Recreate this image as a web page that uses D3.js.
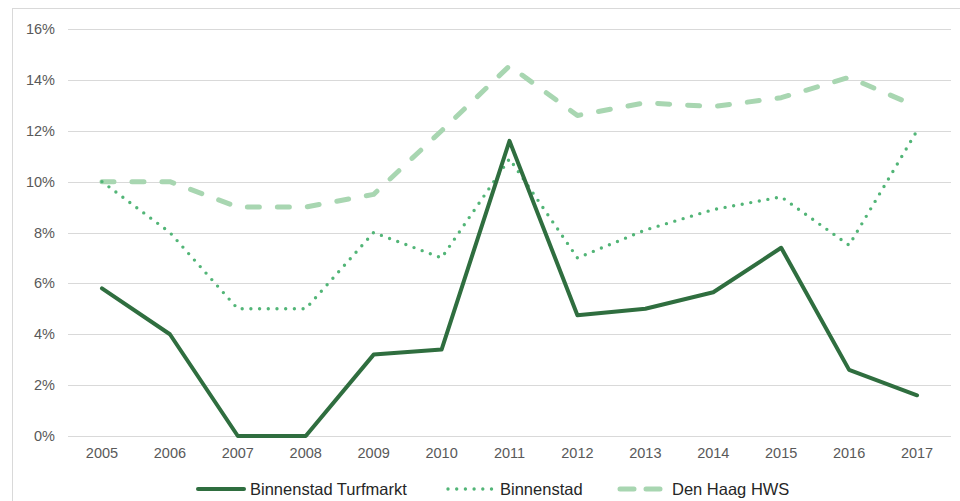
<!DOCTYPE html>
<html>
<head>
<meta charset="utf-8">
<script src="https://cdn.jsdelivr.net/npm/d3@7"></script>
<style>
  body { margin: 0; background: #fff; }
  svg { display: block; font-family: "Liberation Sans", Arial, sans-serif; }
</style>
</head>
<body>
<svg id="chart"></svg>
<script>
// years on the x axis
var years = ["2005", "2006", "2007", "2008", "2009", "2010", "2011", "2012", "2013", "2014", "2015", "2016", "2017"]

// percentages
var turfmarkt = [5.8, 4.0, 0, 0, 3.2, 3.4, 11.6, 4.75, 5.0, 5.65, 7.4, 2.6, 1.6]
var binnenstad = [10, 8, 5, 5, 8, 7, 10.9, 7, 8.1, 8.9, 9.4, 7.5, 12]
var denHaag = [10, 10, 9, 9, 9.5, 12, 14.55, 12.6, 13.1, 12.95, 13.3, 14.1, 12.95]

var yTicks = [0, 2, 4, 6, 8, 10, 12, 14, 16]

var series = [
    {name: "Binnenstad Turfmarkt", values: turfmarkt, color: "#2f6e3f", width: 4, dash: null, legendDash: null},
    {name: "Binnenstad", values: binnenstad, color: "#52b577", width: 3.4, dash: "0 8.7", legendDash: "0 8.7"},
    {name: "Den Haag HWS", values: denHaag, color: "#a8d6b1", width: 5, dash: "12 18", legendDash: "14 12"}
]

var W = 960, H = 501
var svg = d3.select("#chart").attr("width", W).attr("height", H)

// outer chart border
svg.append("rect")
    .attr("x", 12.5).attr("y", 8.5)
    .attr("width", W + 10).attr("height", H + 10)
    .attr("fill", "none")
    .attr("stroke", "#d9d9d9")

var x = d3.scalePoint()
    .domain(years)
    .range([68, 951])
    .padding(0.5)

var y = d3.scaleLinear()
    .domain([0, 16])
    .range([436, 29])

// gridlines
svg.append("g")
    .selectAll("line")
    .data(yTicks)
    .join("line")
        .attr("x1", 68).attr("x2", 951)
        .attr("y1", d => Math.round(y(d)) + 0.5)
        .attr("y2", d => Math.round(y(d)) + 0.5)
        .attr("stroke", "#d9d9d9")

// y labels
svg.append("g")
    .selectAll("text")
    .data(yTicks)
    .join("text")
        .attr("x", 55)
        .attr("y", d => y(d))
        .attr("dy", "0.35em")
        .attr("text-anchor", "end")
        .attr("fill", "#595959")
        .style("font-size", "14.5px")
        .text(d => d + "%")

// x labels
svg.append("g")
    .selectAll("text")
    .data(years)
    .join("text")
        .attr("x", d => x(d))
        .attr("y", 453)
        .attr("dy", "0.35em")
        .attr("text-anchor", "middle")
        .attr("fill", "#595959")
        .style("font-size", "14.5px")
        .text(d => d)

var line = d3.line()
    .x((d, i) => x(years[i]))
    .y(d => y(d))

// draw back to front: dashed, dotted, solid
series.slice().reverse().forEach(function(s) {
    svg.append("path")
        .datum(s.values)
        .attr("d", line)
        .attr("fill", "none")
        .attr("stroke", s.color)
        .attr("stroke-width", s.width)
        .attr("stroke-linecap", "round")
        .attr("stroke-linejoin", "round")
        .attr("stroke-dasharray", s.dash)
})

// legend
var legendX = [198, 448, 620]
var lg = svg.append("g")
series.forEach(function(s, i) {
    var g = lg.append("g").attr("transform", "translate(" + legendX[i] + ",489)")
    g.append("line")
        .attr("x1", 0).attr("x2", 46)
        .attr("stroke", s.color)
        .attr("stroke-width", s.width)
        .attr("stroke-linecap", "round")
        .attr("stroke-dasharray", s.legendDash)
    g.append("text")
        .attr("x", 52)
        .attr("dy", "0.35em")
        .attr("fill", "#262626")
        .style("font-size", "16.5px")
        .text(s.name)
})
</script>
</body>
</html>
